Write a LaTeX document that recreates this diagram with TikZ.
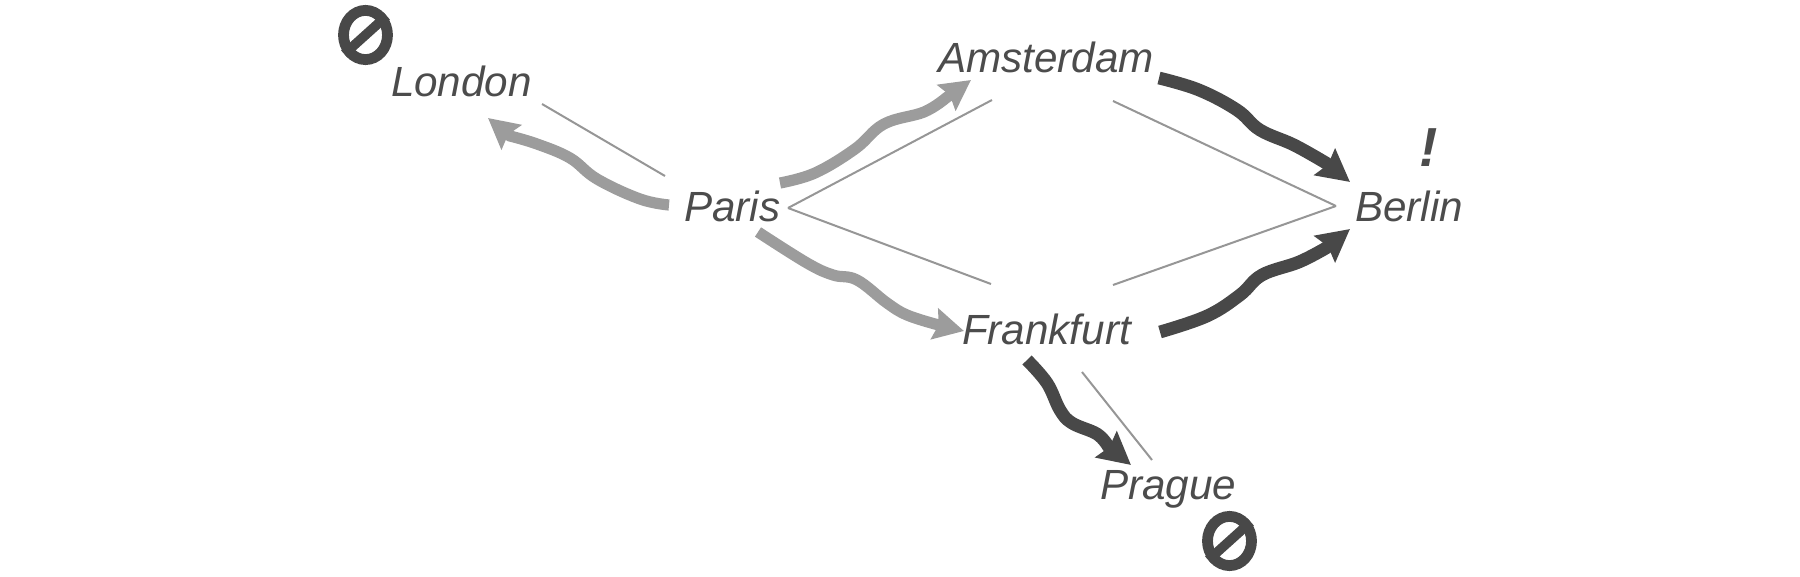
\documentclass[tikz,border=0pt]{standalone}
\usepackage{fontspec}
\setmainfont{Liberation Sans}
\usetikzlibrary{arrows.meta,shapes.geometric}
\definecolor{darkc}{HTML}{484848}
\definecolor{lightc}{HTML}{9C9C9C}
\definecolor{thinc}{HTML}{969696}
\definecolor{textc}{HTML}{4C4C4C}
\tikzset{
  city/.style={anchor=base west,inner sep=0pt,outer sep=0pt,text=textc,font=\fontsize{21.1pt}{24pt}\selectfont\itshape},
  mark sign/.style={anchor=base,inner sep=0pt,text=textc,font=\fontsize{27.5pt}{30pt}\selectfont\bfseries\itshape},
  stopsign/.style={ellipse,draw=darkc,line width=5.4pt,inner sep=0pt,minimum width=22pt,minimum height=24.6pt},
  stopbar/.style={draw=darkc,line width=4.8pt},
  thinlink/.style={draw=thinc,line width=1pt},
  darkflow/.style={draw=darkc,line width=6.4pt,-{Stealth[length=16pt,width=16.5pt,inset=2pt]}},
  lightflow/.style={draw=lightc,line width=5.6pt,-{Stealth[length=15pt,width=15.5pt,inset=2pt]}},
}
\begin{document}
\begin{tikzpicture}[x=0.5pt,y=-0.5pt]
\useasboundingbox (0,0) rectangle (1800,577);
% cities
\node[city] (london) at (391,97) {London};
\node[city] (paris) at (684,222) {Paris};
\node[city] (amsterdam) at (938,73) {Amsterdam};
\node[city] (berlin) at (1355,222) {Berlin};
\node[city] (frankfurt) at (962,345) {Frankfurt};
\node[city] (prague) at (1100,499) {Prague};
% signs
\node[stopsign] (stopL) at (365.5,35) {};
\draw[stopbar] (stopL.222) -- (stopL.42);
\node[stopsign] (stopP) at (1229.5,541) {};
\draw[stopbar] (stopP.222) -- (stopP.42);
\node[mark sign] (warn) at (1429,167) {!};
% thin link ends
\coordinate (tLa) at (542,104); \coordinate (tLb) at (665,176);
\coordinate (tP) at (788,208);
\coordinate (tAa) at (992,100); \coordinate (tAb) at (1113,101);
\coordinate (tFa) at (991,284); \coordinate (tFb) at (1113,285);
\coordinate (tB) at (1336,206);
\coordinate (tGa) at (1082,372); \coordinate (tGb) at (1152,460);
\path[thinlink] (tLa) -- (tLb);
\path[thinlink] (tP) -- (tAa);
\path[thinlink] (tP) -- (tFa);
\path[thinlink] (tAb) -- (tB);
\path[thinlink] (tFb) -- (tB);
\path[thinlink] (tGa) -- (tGb);
% flows
\coordinate (hL) at (488,118);
\coordinate (hA) at (971,80);
\coordinate (hF) at (964,331);
\coordinate (hB1) at (1350,182);
\coordinate (hB2) at (1350,229);
\coordinate (hG) at (1131,465);
\path[lightflow] plot[smooth,tension=0.65] coordinates {(669,205) (640,199) (597,179) (570,158) (537,144) (510,136)} -- (hL);
\path[lightflow] plot[smooth,tension=0.65] coordinates {(780,183) (815,173) (855,149) (884,124) (924,112) (946,98)} -- (hA);
\path[lightflow] plot[smooth,tension=0.65] coordinates {(758,232) (807,263) (833,275) (857,280) (887,303) (907,315) (935,324)} -- (hF);
\path[darkflow] plot[smooth,tension=0.65] coordinates {(1159,78) (1199,90) (1237,110) (1260,130) (1294,145) (1326,163)} -- (hB1);
\path[darkflow] plot[smooth,tension=0.65] coordinates {(1160,332) (1207,316) (1240,295) (1262,275) (1299,262) (1326,248)} -- (hB2);
\path[darkflow] plot[smooth,tension=0.65] coordinates {(1027,360) (1047,383) (1060,410) (1072,423) (1097,434) (1108,446)} -- (hG);
\end{tikzpicture}
\end{document}
